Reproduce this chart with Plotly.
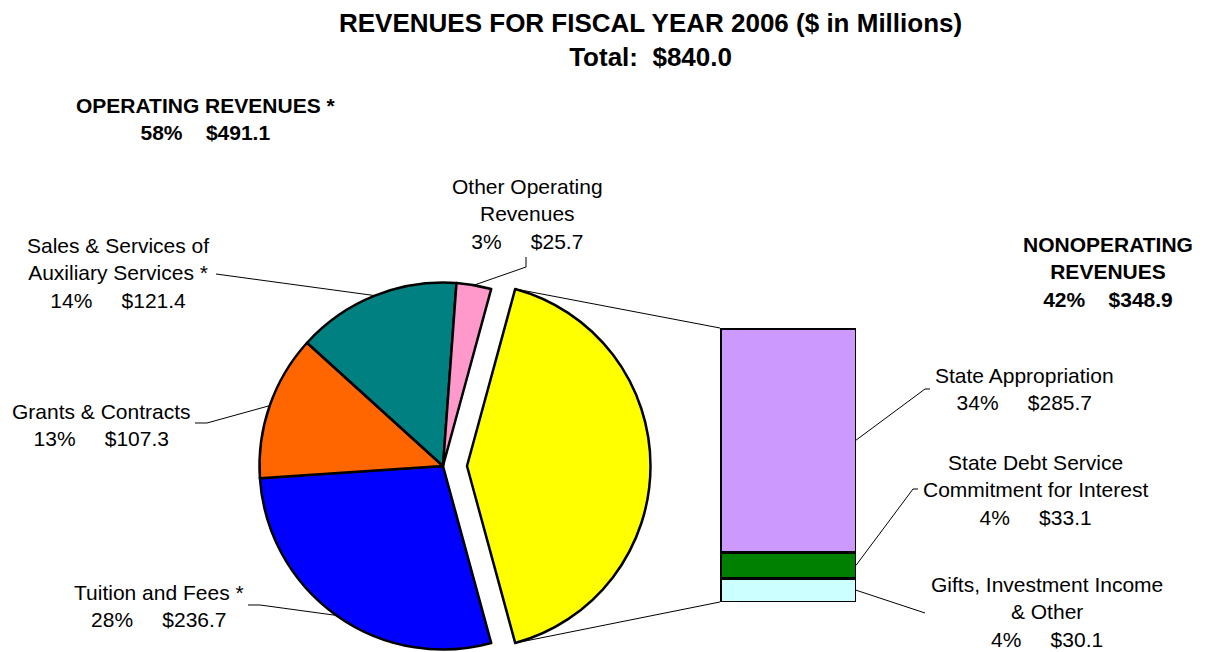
import math
import plotly.graph_objects as go

W, H = 1209, 652

# ---------------- data ----------------
pie_labels = ["Nonoperating Revenues", "Tuition and Fees *", "Grants & Contracts",
              "Sales & Services of Auxiliary Services *", "Other Operating Revenues"]
pie_values = [348.9, 236.7, 107.3, 121.4, 25.7]
pie_colors = ["#FFFF00", "#0000FF", "#FF6600", "#008080", "#FF99CC"]

bar_labels = ["Gifts, Investment Income & Other",
              "State Debt Service Commitment for Interest",
              "State Appropriation"]
bar_values = [30.1, 33.1, 285.7]
bar_colors = ["#CCFFFF", "#008000", "#CC99FF"]

NB = "\u00a0"
pie_texts = [
    None,
    "Tuition and Fees *<br>28%" + NB * 5 + "$236.7",
    "Grants & Contracts<br>13%" + NB * 5 + "$107.3",
    "Sales & Services of<br>Auxiliary Services *<br>14%" + NB * 5 + "$121.4",
    "Other Operating<br>Revenues<br>3%" + NB * 5 + "$25.7",
]
bar_texts = [
    "Gifts, Investment Income<br>& Other<br>4%" + NB * 5 + "$30.1",
    "State Debt Service<br>Commitment for Interest<br>4%" + NB * 5 + "$33.1",
    "State Appropriation<br>34%" + NB * 5 + "$285.7",
]
title_text = "REVENUES FOR FISCAL YEAR 2006 ($ in Millions)<br>Total:" + NB * 2 + "$840.0"
oper_text = "OPERATING REVENUES *<br>58%" + NB * 4 + "$491.1"
nonop_text = "NONOPERATING<br>REVENUES<br>42%" + NB * 4 + "$348.9"

# ---------------- layout geometry (pixels) ----------------
PIE_CX, PIE_CY, PIE_R = 443.0, 466.0, 183.5
EXPLODE = 24.0
BAR_X0, BAR_X1, BAR_TOP, BAR_BOT = 720.0, 856.0, 328.0, 602.0

def fx(x):
    return x / W

def fy(y):
    return 1 - y / H

total = sum(pie_values)
start_deg = 90 - 180 * pie_values[0] / total
bounds = [start_deg]
for v in pie_values:
    bounds.append(bounds[-1] + 360 * v / total)

def arc_pt(cx, cy, ang_deg):
    a = math.radians(ang_deg)
    return cx + PIE_R * math.sin(a), cy - PIE_R * math.cos(a)

fig = go.Figure()

PIE_LW = 2.5
# main pie (operating slices); nonoperating slice transparent
main_colors = ["rgba(0,0,0,0)"] + pie_colors[1:]
main_lw = [0] + [PIE_LW] * (len(pie_values) - 1)
fig.add_trace(go.Pie(
    labels=pie_labels, values=pie_values, sort=False, direction="clockwise",
    rotation=start_deg, textinfo="none", hoverinfo="label+value+percent",
    marker=dict(colors=main_colors, line=dict(color="black", width=main_lw)),
    domain=dict(x=[fx(PIE_CX - PIE_R), fx(PIE_CX + PIE_R)],
                y=[fy(PIE_CY + PIE_R), fy(PIE_CY - PIE_R)]),
    showlegend=False,
))
# exploded nonoperating slice
exp_colors = [pie_colors[0]] + ["rgba(0,0,0,0)"] * (len(pie_values) - 1)
exp_lw = [PIE_LW] + [0] * (len(pie_values) - 1)
fig.add_trace(go.Pie(
    labels=pie_labels, values=pie_values, sort=False, direction="clockwise",
    rotation=start_deg, textinfo="none", hoverinfo="skip",
    marker=dict(colors=exp_colors, line=dict(color="black", width=exp_lw)),
    domain=dict(x=[fx(PIE_CX + EXPLODE - PIE_R), fx(PIE_CX + EXPLODE + PIE_R)],
                y=[fy(PIE_CY + PIE_R), fy(PIE_CY - PIE_R)]),
    showlegend=False,
))

# stacked bar for nonoperating breakdown
for lab, val, col in zip(bar_labels, bar_values, bar_colors):
    fig.add_trace(go.Bar(
        x=[0], y=[val], name=lab, width=1, cliponaxis=False,
        marker=dict(color=col, line=dict(color="black", width=3)),
        showlegend=False, hovertemplate=lab + ": $%{y}<extra></extra>",
    ))

bar_total = sum(bar_values)

shapes = []
def line_path(pts, width=1):
    d = "M " + " L ".join(f"{fx(x):.5f},{fy(y):.5f}" for x, y in pts)
    shapes.append(dict(type="path", path=d, xref="paper", yref="paper",
                       line=dict(color="black", width=width)))

# connector lines from exploded slice to bar
top_pt = arc_pt(PIE_CX + EXPLODE, PIE_CY, bounds[0])
bot_pt = arc_pt(PIE_CX + EXPLODE, PIE_CY, bounds[1])
line_path([top_pt, (BAR_X0, BAR_TOP)])
line_path([bot_pt, (BAR_X0, BAR_BOT)])

# leader lines for pie slices
mid = lambda i: (bounds[i] + bounds[i + 1]) / 2
line_path([(248, 605), (260, 605), arc_pt(PIE_CX, PIE_CY, mid(1))])
line_path([(195, 423), (207, 423), arc_pt(PIE_CX, PIE_CY, mid(2))])
line_path([(216, 274), arc_pt(PIE_CX, PIE_CY, mid(3))])
line_path([(526, 257), (526, 267), arc_pt(PIE_CX, PIE_CY, mid(4))])

# leader lines for bar segments
def bar_mid_y(i):
    c = sum(bar_values[:i]) + bar_values[i] / 2
    return BAR_BOT - c / bar_total * (BAR_BOT - BAR_TOP)

line_path([(BAR_X1, bar_mid_y(0)), (925, 613)])
line_path([(BAR_X1, bar_mid_y(1)), (913, 489), (918, 489)])
line_path([(BAR_X1, bar_mid_y(2)), (925, 389), (930, 389)])

FONT = "Arial, Liberation Sans, sans-serif"
ann = []
def add_text(txt, x, y, size=21, bold=False):
    ann.append(dict(text=("<b>" + txt.replace("<br>", "</b><br><b>") + "</b>") if bold else txt,
                    x=fx(x), y=fy(y), xref="paper", yref="paper",
                    xanchor="center", yanchor="middle", showarrow=False,
                    align="center", font=dict(family=FONT, size=size, color="black")))

add_text(title_text, 650, 39.5, size=26, bold=True)
add_text(oper_text, 205, 118.5, size=21, bold=True)
add_text(nonop_text, 1108, 272, size=21, bold=True)
add_text(pie_texts[4], 527, 214)
add_text(pie_texts[3], 118, 273)
add_text(pie_texts[2], 101, 425)
add_text(pie_texts[1], 159, 605.5)
add_text(bar_texts[2], 1024, 389)
add_text(bar_texts[1], 1035, 489.5)
add_text(bar_texts[0], 1047, 612)

fig.update_layout(
    width=W, height=H, autosize=False,
    margin=dict(l=0, r=0, t=0, b=0),
    paper_bgcolor="white", plot_bgcolor="rgba(0,0,0,0)",
    barmode="stack",
    xaxis=dict(domain=[fx(BAR_X0), fx(BAR_X1)], range=[-0.5, 0.5], visible=False, fixedrange=True),
    yaxis=dict(domain=[fy(BAR_BOT), fy(BAR_TOP)], range=[0, bar_total], visible=False, fixedrange=True),
    shapes=shapes, annotations=ann,
    font=dict(family=FONT, color="black"),
)

fig.write_html("out.html", config={"displayModeBar": False},
               post_script="document.body.style.margin='0';document.body.style.overflow='hidden';")
